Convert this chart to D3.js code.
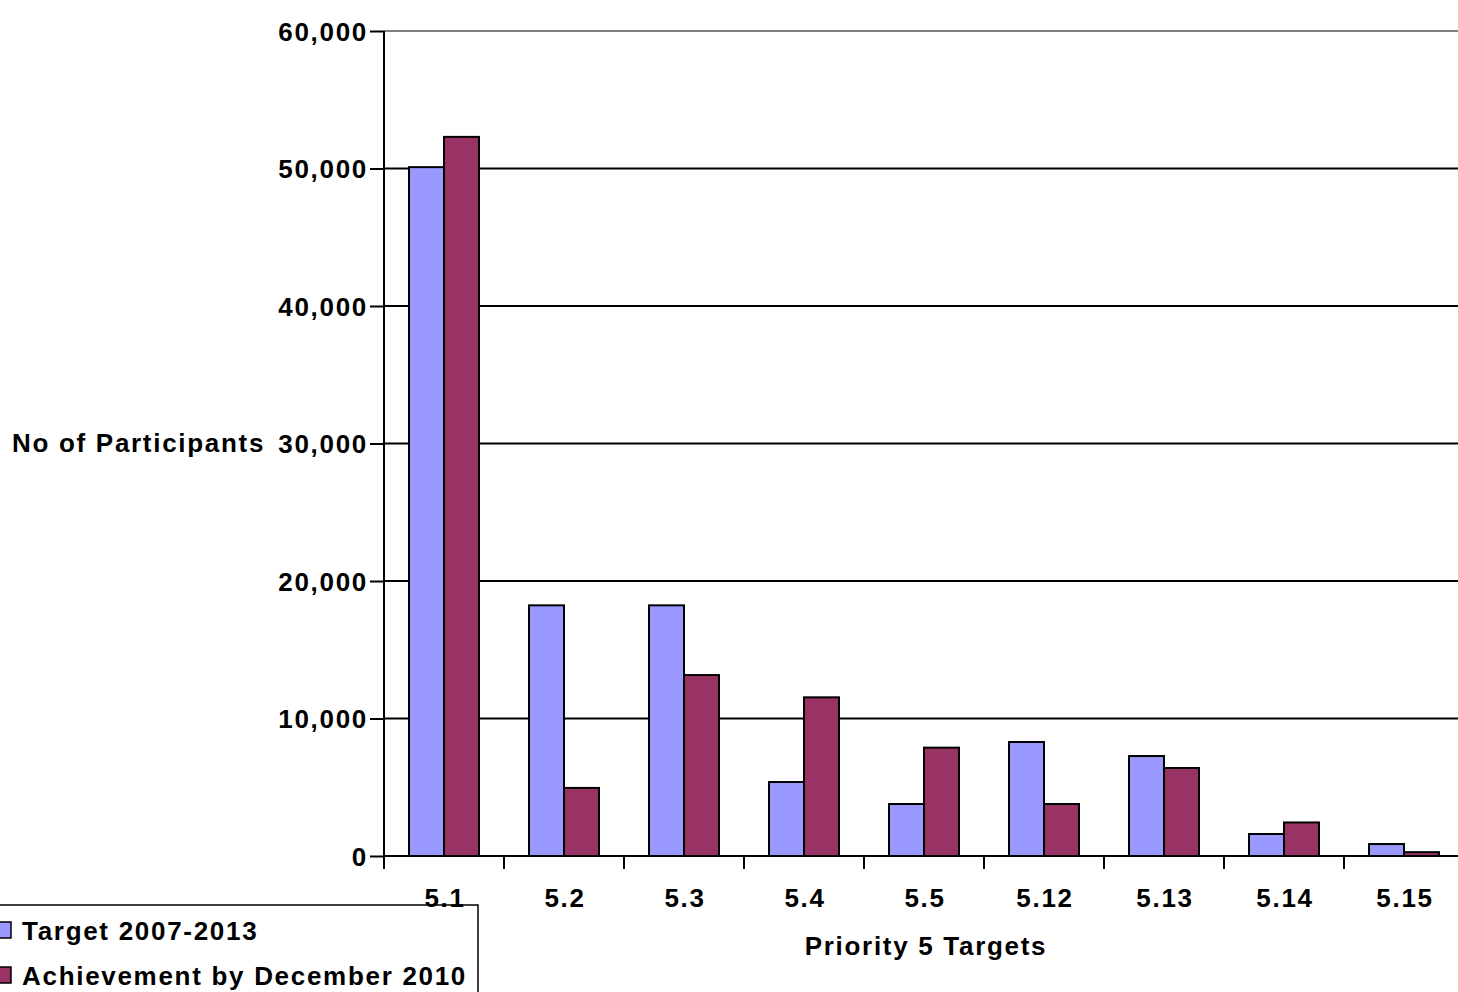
<!DOCTYPE html>
<html>
<head>
<meta charset="utf-8">
<script src="https://cdn.jsdelivr.net/npm/d3@7"></script>
<style>
  html, body { margin: 0; padding: 0; background: #fff; overflow: hidden; }
  svg { display: block; }
  text { font-family: "Liberation Sans", Arial, sans-serif; font-weight: bold; fill: #000; letter-spacing: 1.7px; }
</style>
</head>
<body>
<svg id="chart" width="1458" height="992"></svg>
<script>
// Priority 5 targets vs. achievement
const categories = ["5.1", "5.2", "5.3", "5.4", "5.5", "5.12", "5.13", "5.14", "5.15"];
const target2007_2013 = [50100, 18230, 18230, 5380, 3780, 8290, 7270, 1600, 870];
const achievementDec2010 = [52300, 4950, 13160, 11540, 7880, 3780, 6400, 2440, 280];
const seriesNames = ["Target 2007-2013", "Achievement by December 2010"];
const seriesColors = ["#9999FF", "#993366"];
const yTicks = [0, 10000, 20000, 30000, 40000, 50000, 60000];

const svg = d3.select("#chart");
const plotLeft = 384, plotRight = 1464, plotTop = 31, plotBottom = 856;
const fontStack = "Liberation Sans, Arial, sans-serif";

const x = d3.scaleBand().domain(categories).range([plotLeft, plotRight]).paddingInner(0).paddingOuter(0);
// two bars per category, each 35px wide, centred in the 120px band
const inner = d3.scaleBand().domain([0, 1]).range([0, x.bandwidth()]).paddingInner(0).paddingOuter(0.714);
const y = d3.scaleLinear().domain([0, 60000]).range([plotBottom, plotTop]);

// gridlines
svg.append("g").selectAll("line").data(yTicks.filter(d => d > 0)).join("line")
  .attr("x1", plotLeft).attr("x2", plotRight)
  .attr("y1", d => y(d)).attr("y2", d => y(d))
  .attr("stroke", d => d === 60000 ? "#808080" : "#000")
  .attr("stroke-width", 2);

// bars
const rows = categories.map((c, i) => ({ c, v: [target2007_2013[i], achievementDec2010[i]] }));
const groups = svg.append("g").selectAll("g").data(rows).join("g")
  .attr("transform", d => `translate(${x(d.c)},0)`);
groups.selectAll("rect").data(d => d.v.map((v, k) => ({ v, k }))).join("rect")
  .attr("x", d => inner(d.k))
  .attr("width", inner.bandwidth())
  .attr("y", d => y(d.v))
  .attr("height", d => y(0) - y(d.v))
  .attr("fill", d => seriesColors[d.k])
  .attr("stroke", "#000")
  .attr("stroke-width", 2);

// y axis
const yAxis = d3.axisLeft(y).tickValues(yTicks).tickFormat(d3.format(",")).tickSize(14).tickPadding(2);
const gy = svg.append("g").attr("transform", `translate(${plotLeft},0)`).call(yAxis);
gy.select(".domain").attr("stroke", "#000").attr("stroke-width", 2).attr("d", `M0,${plotTop}V${plotBottom}`);
gy.selectAll(".tick line").attr("stroke", "#000").attr("stroke-width", 2);
gy.selectAll(".tick text").style("font-size", "26px").style("font-family", fontStack).style("font-weight", "bold").attr("dy", "0.36em");

// x axis
const xAxis = d3.axisBottom(x).tickSize(0).tickPadding(0);
const gx = svg.append("g").attr("transform", `translate(0,${plotBottom})`).call(xAxis);
gx.select(".domain").attr("stroke", "#000").attr("stroke-width", 2).attr("d", `M${plotLeft},0H${plotRight}`);
gx.selectAll(".tick text").style("font-size", "26px").style("font-family", fontStack).style("font-weight", "bold").attr("y", 51).attr("dy", 0).attr("dx", 1);
// category separators
svg.append("g").selectAll("line").data(categories).join("line")
  .attr("x1", d => x(d)).attr("x2", d => x(d))
  .attr("y1", plotBottom).attr("y2", plotBottom + 13)
  .attr("stroke", "#000").attr("stroke-width", 2);

// axis titles
svg.append("text").attr("x", 12).attr("y", 452).style("font-size", "26px").text("No of Participants");
svg.append("text").attr("x", (plotLeft + plotRight) / 2 + 2).attr("y", 955).attr("text-anchor", "middle").style("font-size", "26px").text("Priority 5 Targets");

// legend
const lg = svg.append("g");
lg.append("rect").attr("x", -10).attr("y", 905).attr("width", 488).attr("height", 100)
  .attr("fill", "none").attr("stroke", "#000").attr("stroke-width", 1.5);
const legendRows = [{ sw: 922, base: 940 }, { sw: 967, base: 985 }];
seriesNames.forEach((name, k) => {
  lg.append("rect").attr("x", -3).attr("y", legendRows[k].sw).attr("width", 14).attr("height", 16)
    .attr("fill", seriesColors[k]).attr("stroke", "#000").attr("stroke-width", 1.5);
  lg.append("text").attr("x", 22).attr("y", legendRows[k].base).style("font-size", "26px").text(name);
});
</script>
</body>
</html>
